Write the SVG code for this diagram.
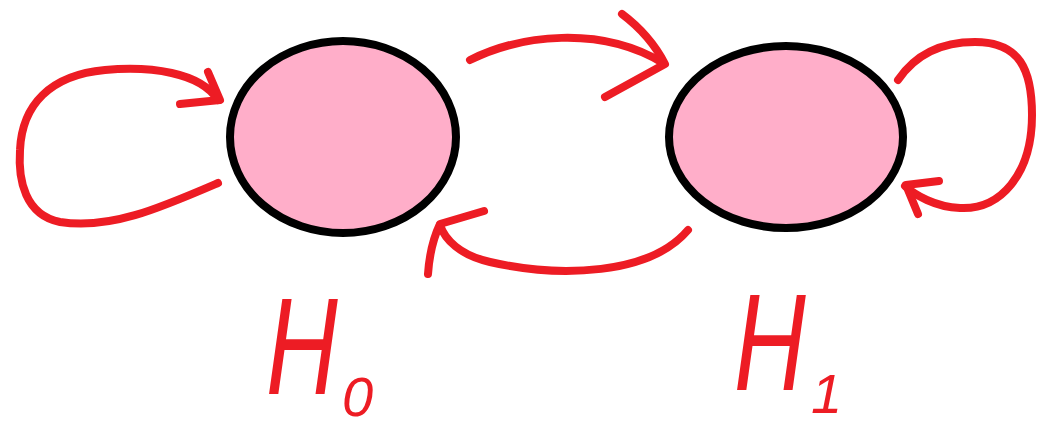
<svg xmlns="http://www.w3.org/2000/svg" width="1048" height="426" viewBox="0 0 1048 426">
<style>
.node{fill:#FFAEC9;stroke:#000;stroke-width:8}
.arr{fill:none;stroke:#ED1C24;stroke-width:8;stroke-linecap:round;stroke-linejoin:round}
.lbl{fill:#ED1C24;font-family:"Liberation Sans",Arial,sans-serif;font-style:italic}
.big{font-size:138px}
.sub{font-size:56px}
</style>
<rect width="1048" height="426" fill="#fff"/>
<g id="connectors">
<g id="loop0">
<path class="arr" d="M218,183 C160,208 110,230 60,222 C25,215 18,180 20,150 C22,105 50,75 105,70 C150,66 200,72 218,100"/>
<path class="arr" d="M208,72 L220,100 L180,104"/>
</g>
<g id="e01">
<path class="arr" d="M470,60 C520,35 600,25 663,63"/>
<path class="arr" d="M622,14 Q650,35 665,64 L605,97"/>
</g>
<g id="e10">
<path class="arr" d="M688,230 C650,275 560,278 490,262 C460,255 445,240 440,225"/>
<path class="arr" d="M484,211 L440,224 Q430,245 428,274"/>
</g>
<g id="loop1">
<path class="arr" d="M898,80 C915,55 940,42 975,42 C1020,42 1032,70 1032,115 C1032,175 1000,210 960,208 C935,207 915,195 905,186"/>
<path class="arr" d="M939,181 L906,185 L918,214"/>
</g>
</g>
<g id="H0">
<ellipse class="node" cx="343" cy="137" rx="113" ry="96"/>
<text class="lbl big" transform="translate(266,394) scale(0.72,1)">H</text>
<text class="lbl sub" x="342" y="416">0</text>
</g>
<g id="H1">
<ellipse class="node" cx="786" cy="137" rx="117" ry="91"/>
<text class="lbl big" transform="translate(734,390) scale(0.72,1)">H</text>
<text class="lbl sub" x="811" y="413">1</text>
</g>
</svg>
